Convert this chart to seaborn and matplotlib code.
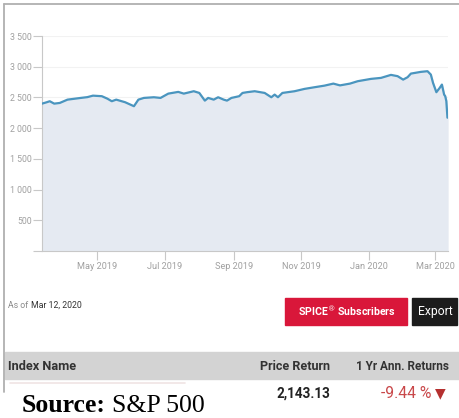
import pandas as pd
import matplotlib.pyplot as plt
import matplotlib.dates as mdates
import seaborn as sns
from matplotlib.patches import Rectangle
from matplotlib.lines import Line2D
from matplotlib.ticker import FuncFormatter

# Werte (S&P 500, Mar 2019 - Mar 2020)
dates = ["2019-03-12", "2019-03-16", "2019-03-19", "2019-03-23", "2019-03-28", "2019-04-04",
         "2019-04-10", "2019-04-16", "2019-04-22", "2019-04-27", "2019-05-05", "2019-05-10",
         "2019-05-14", "2019-05-18", "2019-05-26", "2019-06-03", "2019-06-07", "2019-06-12",
         "2019-06-21", "2019-06-27", "2019-07-04", "2019-07-13", "2019-07-18", "2019-07-27",
         "2019-08-01", "2019-08-06", "2019-08-09", "2019-08-14", "2019-08-18", "2019-08-23",
         "2019-08-26", "2019-08-30", "2019-09-06", "2019-09-09", "2019-09-13", "2019-09-20",
         "2019-09-29", "2019-10-05", "2019-10-08", "2019-10-11", "2019-10-15", "2019-10-26",
         "2019-11-04", "2019-11-13", "2019-11-22", "2019-11-30", "2019-12-06", "2019-12-15",
         "2019-12-22", "2020-01-03", "2020-01-12", "2020-01-21", "2020-01-27", "2020-02-01",
         "2020-02-05", "2020-02-08", "2020-02-17", "2020-02-23", "2020-02-26", "2020-02-28",
         "2020-03-02", "2020-03-05", "2020-03-07", "2020-03-09", "2020-03-10", "2020-03-11",
         "2020-03-12"]
values = [2399, 2420, 2438, 2399, 2410, 2464,
          2478, 2492, 2505, 2529, 2520, 2480,
          2438, 2464, 2422, 2357, 2464, 2492,
          2503, 2492, 2562, 2590, 2562, 2601,
          2573, 2448, 2492, 2464, 2503, 2464,
          2448, 2492, 2520, 2573, 2585, 2601,
          2573, 2503, 2546, 2503, 2573, 2601,
          2639, 2666, 2692, 2725, 2696, 2725,
          2764, 2802, 2818, 2867, 2846, 2790,
          2829, 2888, 2916, 2927, 2872, 2736,
          2585, 2655, 2709, 2546, 2520, 2440,
          2170]
yTicks = [0, 500, 1000, 1500, 2000, 2500, 3000, 3500]
xTicks = ["2019-05-01", "2019-07-01", "2019-09-01", "2019-11-01", "2020-01-01", "2020-03-01"]
asOfDate = "Mar 12, 2020"
headers = ["Index Name", "Price Return", "1 Yr Ann. Returns"]
priceReturn = "2,143.13"
annReturn = "-9.44 %"

df = pd.DataFrame({"date": pd.to_datetime(dates), "value": values})

sns.set_theme(style="white")
plt.rcParams["font.family"] = ["Roboto", "DejaVu Sans"]

W, H = 459, 418
def px(x, y):
    return x / W, 1 - y / H

fig = plt.figure(figsize=(4.59, 4.18), dpi=100)
ax = fig.add_axes([42 / W, 1 - 251 / H, (448 - 42) / W, (251 - 36) / H])

ax.fill_between(df["date"], df["value"], 0, color="#e5eaf2", zorder=2)
sns.lineplot(data=df, x="date", y="value", ax=ax, color="#4a95bf", linewidth=1.6, zorder=3)

ax.set_xlim(pd.Timestamp("2019-03-12"), pd.Timestamp("2020-03-12 12:00"))
ax.set_ylim(0, 3500)
ax.set_yticks(yTicks)
ax.yaxis.set_major_formatter(FuncFormatter(lambda v, p: "" if v == 0 else f"{v:,.0f}".replace(",", " ")))
ax.set_xticks(pd.to_datetime(xTicks))
ax.xaxis.set_major_formatter(mdates.DateFormatter("%b %Y"))
ax.set_xlabel("")
ax.set_ylabel("")
ax.grid(True, axis="y", color="#f2f2f2", linewidth=0.8, zorder=0)
ax.tick_params(bottom=True, left=True, direction="out", length=6.5, width=0.8, color="#c8c8c8",
               labelcolor="#a0a0a0", pad=1)
ax.tick_params(axis="y", labelsize=6.3)
ax.tick_params(axis="x", labelsize=6.6, pad=1.5)
for side in ["top", "right"]:
    ax.spines[side].set_visible(False)
for side in ["left", "bottom"]:
    ax.spines[side].set_color("#c8c8c8")
    ax.spines[side].set_linewidth(0.8)

# Rahmen der Webseite
fig.add_artist(Line2D([4 / W, 1], [1 - 4 / H] * 2, transform=fig.transFigure, color="#b0b0b0", lw=1.3))
fig.add_artist(Line2D([4 / W] * 2, [1 - 4 / H, 1 - 392 / H], transform=fig.transFigure, color="#b0b0b0", lw=1.3))

# As of
fig.text(*px(8, 305), "As of", fontsize=6.3, color="#8a8a8a", va="center")
fig.text(*px(31, 305), asOfDate, fontsize=6.3, color="#333333", va="center")

# Buttons
fig.add_artist(Rectangle(px(285, 325), 122 / W, 27 / H, transform=fig.transFigure, color="#d9173a"))
fig.text(*px(347, 311), r"SPICE$^{\circledR}$ Subscribers", fontsize=7.6, color="white", fontweight="bold",
         ha="center", va="center")
fig.add_artist(Rectangle(px(412, 325), 45 / W, 27 / H, transform=fig.transFigure, color="#1c1c1c"))
fig.text(*px(435.5, 311), "Export", fontsize=8.7, color="white", ha="center", va="center")

# Tabelle
fig.add_artist(Rectangle(px(5, 379), (W - 5) / W, 27 / H, transform=fig.transFigure, color="#d3d3d3"))
fig.text(*px(8, 366), headers[0], fontsize=9.2, color="#333333", fontweight="bold", va="center")
fig.text(*px(330, 366), headers[1], fontsize=9, color="#333333", fontweight="bold", ha="right", va="center")
fig.text(*px(449, 366), headers[2], fontsize=8.5, color="#333333", fontweight="bold", ha="right", va="center")
fig.add_artist(Line2D([10 / W, 185 / W], [1 - 383 / H] * 2, transform=fig.transFigure, color="#f0e4e4", lw=1.2))
fig.text(*px(330, 394), priceReturn, fontsize=9.8, color="#222222", fontweight="bold", ha="right", va="center")
fig.text(*px(431, 394), annReturn, fontsize=11.3, color="#c9484a", ha="right", va="center")
fig.text(*px(446, 393), "\u25bc", fontsize=10, color="#b5302f", ha="right", va="center", family=["DejaVu Sans"])

# Quelle
fig.text(*px(22, 417.5), "Source:", fontsize=18.5, fontweight="bold", color="black", va="bottom", family=["Liberation Serif"])
fig.text(*px(112, 417.5), "S&P 500", fontsize=18.5, color="black", va="bottom", family=["Liberation Serif"])

fig.savefig("out.png", dpi=100)
plt.close("all")
